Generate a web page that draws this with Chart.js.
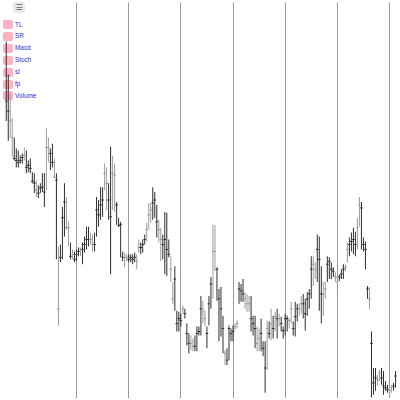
<!DOCTYPE html>
<html><head><meta charset="utf-8">
<script src="https://cdn.jsdelivr.net/npm/chart.js@4"></script>
<style>
html,body{margin:0;padding:0;background:#fff;overflow:hidden}
#wrap{position:relative;width:400px;height:400px}
#legend{position:absolute;left:0;top:0;width:80px;height:110px;z-index:0;font-family:"Liberation Sans",Arial,sans-serif}
#c{position:absolute;left:0;top:0;z-index:1}
.menu{position:absolute;left:13px;top:2px;width:12px;height:11px;background:#e9e9e9;border-radius:2px;color:#666;font-size:8px;line-height:11px;text-align:center;font-family:"DejaVu Sans",sans-serif}
.sw{position:absolute;left:3px;width:10px;height:9px;background:rgba(255,99,132,0.5);border-radius:2px}
.lb{position:absolute;left:15px;font-size:6.4px;line-height:9px;color:#2a2ad2;white-space:nowrap}
</style></head>
<body>
<div id="wrap">
  <div id="legend"><div class="menu">☰</div></div>
  <canvas id="c" width="400" height="400"></canvas>
</div>
<script>
const indicators = ['TL','SR','Macd','Stoch','sl','fp','Volume'];
const periodStarts = [35, 61, 87, 113, 139, 165, 191];

const high = [360,327,307,283,263,252,250,245,247,253,
 250,240,242,228,227,220,215,217,227,227,
 273,263,252,257,242,227,153,155,193,217,
 203,178,157,150,148,150,152,152,157,163,
 173,173,167,165,167,203,200,213,213,237,
 233,217,254,245,237,198,182,178,148,147,
 145,145,145,145,147,145,160,157,160,165,
 177,197,197,213,208,195,180,172,165,188,
 187,160,143,117,133,88,87,85,93,90,
 75,65,63,60,63,72,72,103,98,88,
 72,103,122,175,175,132,110,112,83,48,
 50,73,70,73,75,78,117,115,120,107,
 105,103,103,83,83,72,70,80,57,57,
 78,77,90,83,87,90,85,82,72,85,
 83,80,97,77,97,95,95,103,105,100,
 107,110,143,143,137,165,163,133,117,117,
 143,142,137,132,127,123,125,130,135,135,
 157,162,167,172,168,182,203,198,162,158,
 113,112,67,30,30,23,28,30,27,17,
 13,15,13,15,27];

const low = [280,260,263,243,240,233,233,237,237,240,
 227,228,227,217,207,203,202,207,208,193,
 210,238,230,233,222,140,73,137,140,163,
 170,153,140,140,137,138,143,143,135,147,
 150,153,155,148,148,163,173,180,183,210,
 190,180,125,190,188,175,173,142,138,132,
 138,137,137,135,137,130,147,145,147,155,
 158,170,177,180,182,162,157,138,140,125,
 123,142,117,95,88,67,67,72,85,80,
 53,45,48,47,47,47,63,63,75,72,
 50,73,90,100,128,98,57,62,45,33,
 33,38,57,57,68,70,95,97,97,90,
 87,87,67,63,50,47,47,47,42,5,
 28,60,58,60,67,60,72,67,60,63,
 67,70,75,63,62,77,83,85,80,68,
 83,90,100,113,120,117,88,75,83,100,
 117,120,120,122,117,110,118,120,120,128,
 137,143,148,145,143,150,173,150,148,130,
 100,90,0,3,7,12,17,13,3,7,
 5,2,5,7,10];

const close = [300,290,280,263,242,240,238,240,243,245,
 233,235,232,219,217,210,207,212,213,208,
 253,253,247,238,223,220,90,142,182,198,
 172,172,143,145,140,145,148,150,150,155,
 160,160,160,155,155,190,185,195,200,227,
 217,200,183,227,225,195,174,175,142,142,
 142,140,142,140,142,138,152,152,155,160,
 170,185,190,197,200,178,170,160,155,160,
 150,145,130,100,120,75,80,78,90,85,
 65,55,55,52,52,65,67,90,88,80,
 65,95,115,148,148,130,100,90,70,45,
 38,70,65,67,72,75,110,108,105,100,
 95,95,80,75,70,55,60,65,50,30,
 70,65,75,70,82,80,80,75,68,80,
 80,78,90,70,82,90,90,95,95,85,
 100,105,130,135,130,150,140,105,105,110,
 135,138,130,128,122,117,122,125,130,132,
 150,155,158,160,155,172,195,192,155,150,
 110,100,55,15,20,18,25,20,12,10,
 8,8,10,12,22];

const rising = [0,0,1,1,0,0,0,0,0,1,
 0,0,0,0,0,1,0,0,0,0,
 1,1,0,0,1,0,1,0,0,0,
 1,1,0,1,0,0,0,1,0,0,
 0,0,1,1,0,0,0,0,0,1,
 1,0,0,1,1,0,0,0,0,1,
 1,0,0,0,0,1,1,0,0,0,
 1,1,1,0,0,0,1,1,0,0,
 0,0,1,1,0,0,0,0,1,0,
 0,0,1,1,0,0,0,0,1,1,
 0,0,0,1,1,0,0,0,0,1,
 0,0,0,0,1,1,0,0,0,1,
 1,1,0,0,0,1,1,0,0,0,
 1,0,1,0,1,0,1,0,0,0,
 0,1,1,0,0,0,1,1,0,0,
 0,0,0,1,1,0,0,0,1,1,
 0,0,0,0,1,1,0,0,0,1,
 1,0,0,0,0,1,1,0,0,0,
 0,1,0,0,0,1,1,0,0,0,
 0,1,1,0,0];

// legend (HTML, beneath the canvas)
const leg = document.getElementById('legend');
indicators.forEach((name, k) => {
  const top = 20 + k * 11.9;
  const sw = document.createElement('div');
  sw.className = 'sw'; sw.style.top = top + 'px';
  const lb = document.createElement('div');
  lb.className = 'lb'; lb.style.top = (top - 0.5) + 'px'; lb.textContent = name;
  leg.appendChild(sw); leg.appendChild(lb);
});

const idx = high.map((_, i) => i);
const colorOf = i => rising[i] ? '#9c9c9c' : '#2e2e2e';
const colors = idx.map(colorOf);

new Chart(document.getElementById('c'), {
  type: 'bar',
  data: {
    datasets: [
      {
        type: 'scatter', order: 1,
        data: idx.map(i => ({x: i, y: close[i]})),
        pointStyle: 'line', pointRadius: 1.3, pointHoverRadius: 1.3,
        pointBorderWidth: 1, pointBorderColor: colors, pointBackgroundColor: colors,
        showLine: false
      },
      {
        type: 'bar', order: 2,
        data: idx.map(i => ({x: i, y: [low[i], high[i]]})),
        backgroundColor: colors, borderWidth: 0, barThickness: 1,
        inflateAmount: 0, grouped: false
      }
    ]
  },
  options: {
    responsive: false, animation: false, maintainAspectRatio: false,
    layout: { padding: 0 },
    plugins: { legend: { display: false }, tooltip: { enabled: false } },
    scales: {
      x: {
        type: 'linear', min: -1.97, max: 195.07, offset: false,
        afterBuildTicks: s => { s.ticks = periodStarts.map(v => ({ value: v })); },
        ticks: { display: false },
        grid: { color: '#9a9a9a', lineWidth: 1, drawTicks: false, offset: false },
        border: { display: false }
      },
      y: { display: false, min: 0, max: 400 }
    }
  }
});
</script>
</body></html>
